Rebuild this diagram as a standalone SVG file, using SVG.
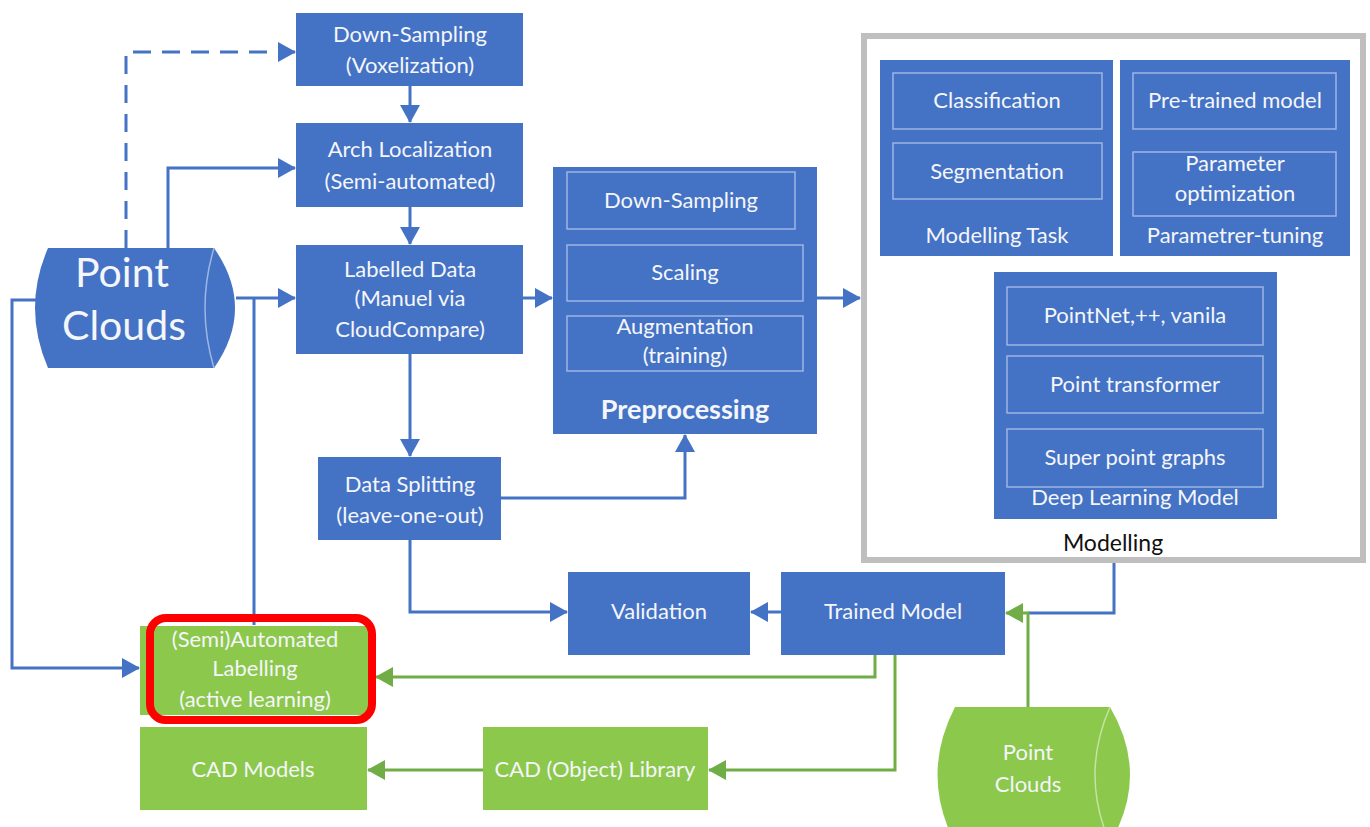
<svg xmlns="http://www.w3.org/2000/svg" width="1370" height="827" viewBox="0 0 1370 827">
<style>
.b{fill:#4472C4}
.g{fill:#8CC84B}
.in{fill:none;stroke:#9DB7E3;stroke-width:1.5}
.t{font-family:Lato,"Open Sans",sans-serif;font-size:22px;fill:#F4F6FA;text-anchor:middle}
.bl{stroke:#4472C4;stroke-width:3;fill:none}
.gl{stroke:#70AD47;stroke-width:3;fill:none}
</style>
<defs>
<marker id="ab" markerUnits="userSpaceOnUse" markerWidth="18" markerHeight="20" refX="17" refY="10" orient="auto"><path d="M0,0 L18,10 L0,20 Z" fill="#4472C4"/></marker>
<marker id="ag" markerUnits="userSpaceOnUse" markerWidth="18" markerHeight="20" refX="17" refY="10" orient="auto"><path d="M0,0 L18,10 L0,20 Z" fill="#70AD47"/></marker>
</defs>
<rect width="1370" height="827" fill="#FFFFFF"/>

<g id="connectors">
<path class="bl" d="M126,248 V52 H295" stroke-dasharray="18,11" marker-end="url(#ab)"/>
<path class="bl" d="M168,248 V168 H295" marker-end="url(#ab)"/>
<path class="bl" d="M236,298 H295" marker-end="url(#ab)"/>
<path class="bl" d="M254,625 V298"/>
<path class="bl" d="M410,86 V122" marker-end="url(#ab)"/>
<path class="bl" d="M410,207 V244" marker-end="url(#ab)"/>
<path class="bl" d="M523,298 H552" marker-end="url(#ab)"/>
<path class="bl" d="M817,298 H860" marker-end="url(#ab)"/>
<path class="bl" d="M410,354 V456" marker-end="url(#ab)"/>
<path class="bl" d="M501,498 H685 V435" marker-end="url(#ab)"/>
<path class="bl" d="M410,540 V612 H567" marker-end="url(#ab)"/>
<path class="bl" d="M781,612 H751" marker-end="url(#ab)"/>
<path class="bl" d="M36,300 H12 V668 H139" marker-end="url(#ab)"/>
<path class="bl" d="M1114,563 V613 H1028"/>
<path class="gl" d="M1028,707 V613 H1006" marker-end="url(#ag)"/>
<path class="gl" d="M875,655 V677 H376" marker-end="url(#ag)"/>
<path class="gl" d="M895,655 V770 H709" marker-end="url(#ag)"/>
<path class="gl" d="M483,770 H368" marker-end="url(#ag)"/>
</g>

<g id="point-clouds-blue">
<path class="b" d="M48,248 H214 Q256,308 214,368 H48 Q22,308 48,248 Z"/>
<path d="M214,248 Q196,308 214,368" fill="none" stroke="#9DB7E3" stroke-width="1.5"/>
<text class="t" x="122" y="287" style="font-size:41px">Point</text>
<text class="t" x="124" y="340" style="font-size:41px">Clouds</text>
</g>

<g id="down-sampling">
<rect class="b" x="296" y="13" width="227" height="73"/>
<text class="t" x="410" y="42">Down-Sampling</text>
<text class="t" x="410" y="73">(Voxelization)</text>
</g>

<g id="arch-localization">
<rect class="b" x="296" y="123" width="227" height="84"/>
<text class="t" x="410" y="157">Arch Localization</text>
<text class="t" x="410" y="189">(Semi-automated)</text>
</g>

<g id="labelled-data">
<rect class="b" x="296" y="245" width="227" height="109"/>
<text class="t" x="410" y="277">Labelled Data</text>
<text class="t" x="410" y="306">(Manuel via</text>
<text class="t" x="410" y="337">CloudCompare)</text>
</g>

<g id="preprocessing">
<rect class="b" x="553" y="167" width="264" height="267"/>
<rect class="in" x="567" y="172" width="228" height="57"/>
<text class="t" x="681" y="208">Down-Sampling</text>
<rect class="in" x="567" y="245" width="236" height="56"/>
<text class="t" x="685" y="280">Scaling</text>
<rect class="in" x="567" y="316" width="236" height="55"/>
<text class="t" x="685" y="334">Augmentation</text>
<text class="t" x="685" y="363">(training)</text>
<text class="t" x="685" y="419" style="font-size:27px;font-weight:bold">Preprocessing</text>
</g>

<g id="modelling">
<rect x="864" y="36" width="499" height="524" fill="#FFFFFF" stroke="#BFBFBF" stroke-width="6"/>
<text class="t" x="1113" y="551" style="fill:#111111;font-size:23px">Modelling</text>
</g>

<g id="modelling-task">
<rect class="b" x="880" y="60" width="233" height="196"/>
<rect class="in" x="893" y="73" width="209" height="56"/>
<text class="t" x="997" y="108">Classification</text>
<rect class="in" x="893" y="143" width="209" height="56"/>
<text class="t" x="997" y="179">Segmentation</text>
<text class="t" x="997" y="243">Modelling Task</text>
</g>

<g id="parameter-tuning">
<rect class="b" x="1120" y="60" width="230" height="196"/>
<rect class="in" x="1133" y="73" width="203" height="56"/>
<text class="t" x="1235" y="108">Pre-trained model</text>
<rect class="in" x="1133" y="152" width="203" height="64"/>
<text class="t" x="1235" y="171">Parameter</text>
<text class="t" x="1235" y="201">optimization</text>
<text class="t" x="1235" y="243">Parametrer-tuning</text>
</g>

<g id="deep-learning-model">
<rect class="b" x="994" y="272" width="283" height="247"/>
<rect class="in" x="1007" y="287" width="256" height="58"/>
<text class="t" x="1135" y="323">PointNet,++, vanila</text>
<rect class="in" x="1007" y="356" width="256" height="57"/>
<text class="t" x="1135" y="392">Point transformer</text>
<rect class="in" x="1007" y="429" width="256" height="58"/>
<text class="t" x="1135" y="465">Super point graphs</text>
<text class="t" x="1135" y="505">Deep Learning Model</text>
</g>

<g id="data-splitting">
<rect class="b" x="318" y="457" width="183" height="83"/>
<text class="t" x="410" y="492">Data Splitting</text>
<text class="t" x="410" y="523">(leave-one-out)</text>
</g>

<g id="validation">
<rect class="b" x="568" y="572" width="182" height="83"/>
<text class="t" x="659" y="619">Validation</text>
</g>

<g id="trained-model">
<rect class="b" x="781" y="572" width="224" height="83"/>
<text class="t" x="893" y="619">Trained Model</text>
</g>

<g id="semi-automated-labelling">
<rect class="g" x="140" y="626" width="228" height="89"/>
<text class="t" x="255" y="647">(Semi)Automated</text>
<text class="t" x="255" y="676">Labelling</text>
<text class="t" x="255" y="707">(active learning)</text>
<rect x="150" y="618" width="222" height="102" rx="16" fill="none" stroke="#FF0000" stroke-width="8"/>
</g>

<g id="cad-models">
<rect class="g" x="140" y="727" width="227" height="83"/>
<text class="t" x="253" y="777">CAD Models</text>
</g>

<g id="cad-library">
<rect class="g" x="483" y="727" width="225" height="83"/>
<text class="t" x="595" y="777">CAD (Object) Library</text>
</g>

<g id="point-clouds-green">
<path class="g" d="M955,707 H1110 Q1150,775 1110,843 H955 Q920,775 955,707 Z"/>
<path d="M1110,707 Q1080,775 1110,843" fill="none" stroke="#C5E3A5" stroke-width="1.5"/>
<text class="t" x="1028" y="760">Point</text>
<text class="t" x="1028" y="792">Clouds</text>
</g>
</svg>
